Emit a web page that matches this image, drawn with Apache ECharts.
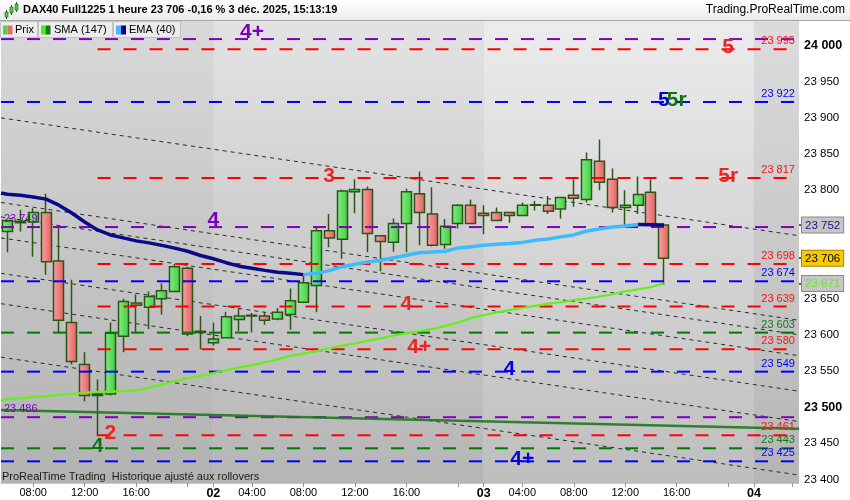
<!DOCTYPE html>
<html><head><meta charset="utf-8">
<script src="https://cdn.jsdelivr.net/npm/echarts@6/dist/echarts.min.js"></script>
<style>html,body{margin:0;padding:0;background:#fff}#c{width:850px;height:500px}</style>
</head><body><div id="c"></div>
<script>
// ---------- DATA ----------
const times = [
 '01 06:00','01 07:00','01 08:00','01 09:00','01 10:00','01 11:00','01 12:00','01 13:00','01 14:00','01 15:00','01 16:00','01 17:00','01 18:00','01 19:00','01 20:00','01 21:00',
 '02 01:00','02 02:00','02 03:00','02 04:00','02 05:00','02 06:00','02 07:00','02 08:00','02 09:00','02 10:00','02 11:00','02 12:00','02 13:00','02 14:00','02 15:00','02 16:00','02 17:00','02 18:00','02 19:00','02 20:00','02 21:00',
 '03 01:00','03 02:00','03 03:00','03 04:00','03 05:00','03 06:00','03 07:00','03 08:00','03 09:00','03 10:00','03 11:00','03 12:00','03 13:00','03 14:00','03 15:00','03 16:00','03 17:00','03 18:00','03 19:00','03 20:00','03 21:00',
 '04 01:00','04 02:00','04 03:00','04 04:00'];
const opens  = [23743,23757,23756,23769,23702,23617,23559,23516,23518,23598,23644,23638,23650,23660,23692,23603,23589,23596,23621,23626,23626,23622,23628,23645,23668,23744,23732,23798,23801,23737,23728,23754,23795,23767,23725,23754,23779,23768,23769,23769,23765,23779,23779,23774,23793,23787,23840,23815,23776,23779,23797,23752];
const closes = [23758,23755,23769,23701,23620,23563,23516,23518,23602,23646,23641,23653,23661,23694,23601,23605,23594,23625,23626,23627,23620,23631,23647,23672,23744,23734,23799,23801,23740,23729,23754,23798,23769,23724,23750,23779,23754,23765,23758,23765,23779,23780,23771,23790,23789,23842,23811,23776,23779,23794,23752,23706];
const lows   = [23714,23743,23708,23683,23602,23559,23508,23460,23516,23576,23602,23608,23628,23659,23598,23580,23585,23595,23605,23603,23614,23620,23607,23644,23631,23721,23705,23768,23714,23688,23715,23714,23724,23722,23719,23747,23753,23739,23757,23755,23764,23772,23767,23761,23777,23783,23800,23769,23752,23767,23750,23669];
const highs  = [23759,23773,23775,23795,23752,23676,23576,23538,23617,23650,23656,23660,23671,23698,23694,23626,23617,23632,23636,23630,23631,23637,23664,23682,23749,23767,23801,23815,23805,23738,23761,23802,23826,23804,23760,23781,23787,23779,23776,23770,23783,23785,23792,23791,23815,23852,23870,23830,23800,23819,23815,23754];
const ema40  = [23794.5,23793,23790.7,23787.6,23779.3,23768.4,23756,23745,23738.1,23734,23729.9,23727.1,23723.7,23719.9,23715.5,23709.7,23705.2,23699.7,23694.9,23692.1,23689.1,23686.6,23685.2,23683.2,23685.2,23688.7,23694.2,23697.6,23700.6,23703.1,23706.5,23710,23713.4,23714.4,23715.5,23719.9,23721.6,23723.7,23725.1,23726.2,23727.8,23730.6,23732.6,23735.4,23738.1,23743.6,23746.4,23749.1,23750.5,23752.5,23752.3,23752];
const sma147 = [23511,23512,23514,23515,23517,23518,23520,23521,23521.5,23522,23523,23527,23531,23536,23540,23543,23547,23551,23555,23558,23562,23566,23571,23574,23577,23581,23585,23588,23592,23595,23599,23602,23605,23608,23612,23617,23623,23627,23631,23634,23637,23640,23643,23645,23648,23650,23653,23656,23660,23663,23666,23671];
// values of both averages where they enter at the left edge of the picture
const emaLeftEdge = 23796, smaLeftEdge = 23509;

// horizontal levels
const redLevels    = [23995, 23817, 23698, 23639, 23580, 23461];
const blueLevels   = [23922, 23674, 23549, 23425];
const greenLevels  = [23603, 23443];
const purpleLevels = [24009, 23749, 23486];
const purpleLeftLabels = ['23 749', '23 486'];
const purpleLeftLabelValues = [23749, 23486];
const redLevelsStart = '01 13:00';

// level tags
const tagTexts  = ['4+', '5', '5', '5r', '3', '5r', '4', '4', '4+', '4', '2', '4', '4+'];
const tagValues = [24009, 23995, 23922, 23922, 23817, 23817, 23749, 23639, 23580, 23549, 23461, 23443, 23425];
const tagTimes  = ['02 04:00','03 20:00','03 15:00','03 16:00','02 10:00','03 20:00','02 01:00','02 16:00','02 17:00','03 03:00','01 14:00','01 13:00','03 04:00'];
const tagKinds  = ['purple','red','blue','green','red','red','purple','red','red','blue','red','green','blue'];

// sloped dashed channel lines (value at left edge, value at right edge)
const diagStart = [23900, 23783, 23763, 23734, 23685, 23643, 23569];
const diagEnd   = [23737, 23620, 23600, 23571, 23522, 23480, 23406];
// long dark green trend line
const trendStart = 23496, trendEnd = 23470;

// axis ticks / labels
const yTicks = [23400, 23450, 23500, 23550, 23600, 23650, 23800, 23850, 23900, 23950, 24000];
const yBold = [23500, 24000];
const xLabelTimes = ['01 08:00','01 12:00','01 16:00','02 01:00','02 04:00','02 08:00','02 12:00','02 16:00','03 01:00','03 04:00','03 08:00','03 12:00','03 16:00','04 01:00'];
const xLabelTexts = ['08:00','12:00','16:00','02','04:00','08:00','12:00','16:00','03','04:00','08:00','12:00','16:00','04'];
const xExtraTicks = ['01 20:00','02 20:00','03 20:00','04 04:00'];
const dayStarts = ['02 01:00', '03 01:00', '04 01:00'];

// ---------- STYLE ----------
const FONT = 'Liberation Sans, Arial, sans-serif';
const kindColor = {red:'#ff0000', blue:'#0000ff', green:'#007a00', purple:'#8000c0'};
const labelColor = {red:'#ff1010', blue:'#0000ff', green:'#107a10', purple:'#8000c0'};
const tagColor = {red:'#ee2424', blue:'#0000e0', green:'#0f730f', purple:'#7a00bb'};
const fmt = v => { const s = String(Math.round(v)); return s.slice(0, s.length - 3) + ' ' + s.slice(-3); };

const chart = echarts.init(document.getElementById('c'), null, {renderer:'canvas'});
const N = times.length;
const LG = (a, b) => new echarts.graphic.LinearGradient(0, 0, 0, 1, [{offset:0, color:a}, {offset:1, color:b}]);
const HG = (a, b) => new echarts.graphic.LinearGradient(0, 0, 1, 0, [{offset:0, color:a}, {offset:1, color:b}]);

const candleData = times.map((t, i) => i < opens.length ? [opens[i], closes[i], lows[i], highs[i]] : '-');

// points on the hidden value x-axis (category centre = index + 0.5)
function toPts(edge, arr) { return [[0, edge], ...arr.map((v, i) => [i + 0.5, v])]; }
function splitSlope(pts) {
  const up = pts.map(p => [p[0], '-']), down = pts.map(p => [p[0], '-']);
  for (let i = 0; i < pts.length - 1; i++) {
    const tgt = pts[i + 1][1] >= pts[i][1] ? up : down;
    tgt[i] = pts[i]; tgt[i + 1] = pts[i + 1];
  }
  return {up, down};
}
const emaS = splitSlope(toPts(emaLeftEdge, ema40)), smaS = splitSlope(toPts(smaLeftEdge, sma147));

const pos = t => times.indexOf(t) + 0.5;
const series = [];

// day background bands
const bandEdges = [0, ...dayStarts.map(pos), N];
const bandCols = [['#d9d9d9', '#b2b2b2'], ['#e3e3e3', '#b5b5b5'], ['#ececec', '#bebebe'], ['#dcdcdc', '#b5b5b5']];
series.push({
  type:'line', xAxisIndex:1, data:[], silent:true,
  markArea:{silent:true, data: bandCols.map((c, i) => [{xAxis: bandEdges[i], itemStyle:{color: LG(c[0], c[1])}}, {xAxis: bandEdges[i + 1]}])}
});

// diagonal channel lines
diagStart.forEach((s, i) => series.push({
  type:'line', xAxisIndex:1, symbol:'none', silent:true, z:2,
  lineStyle:{color:'#2a2a2a', width:1, type:[4, 4]},
  data:[[0, s], [N, diagEnd[i]]]
}));

// candles
series.push({
  type:'candlestick', data:candleData, barWidth:10.5, z:3,
  itemStyle:{color: HG('#86ee86', '#3fcc3f'), color0: HG('#f8a4a4', '#e45e5e'),
    borderColor:'#2b5618', borderColor0:'#2b5618', borderWidth:1.5}
});

// horizontal levels
function addLevels(list, kind, startX) {
  list.forEach(v => series.push({
    type:'line', xAxisIndex:1, symbol:'none', silent:true, z:4,
    lineStyle:{color: kindColor[kind], width:2, type:[13, 13]},
    data:[[startX, v], [N, v]]
  }));
}
addLevels(redLevels, 'red', pos(redLevelsStart));
addLevels(blueLevels, 'blue', 0);
addLevels(greenLevels, 'green', 0);
addLevels(purpleLevels, 'purple', 0);

// trend line
series.push({type:'line', xAxisIndex:1, symbol:'none', silent:true, z:5,
  lineStyle:{color:'#1d7a1d', width:2.5, opacity:0.9}, data:[[0, trendStart], [N, trendEnd]]});

// SMA & EMA
series.push({type:'line', xAxisIndex:1, data:smaS.up, symbol:'none', z:6, lineStyle:{color:'#66ee1a', width:2.2}});
series.push({type:'line', xAxisIndex:1, data:smaS.down, symbol:'none', z:6, lineStyle:{color:'#117711', width:2.2}});
series.push({type:'line', xAxisIndex:1, data:emaS.down, symbol:'none', z:7, lineStyle:{color:'#0a0a88', width:3.5}});
series.push({type:'line', xAxisIndex:1, data:emaS.up, symbol:'none', z:7, lineStyle:{color:'#3cbcff', width:3.5}});

const txtBase = {show:true, position:[0, 0], fontFamily:FONT, textBorderWidth:0, opacity:1};
// right-side level values
const rightLab = [];
[['red', redLevels], ['blue', blueLevels], ['green', greenLevels]].forEach(([k, arr]) =>
  arr.forEach(v => rightLab.push({value:[N, v], label:{formatter: fmt(v), color: labelColor[k]}})));
series.push({type:'scatter', xAxisIndex:1, symbolSize:0.1, itemStyle:{color:'#000', opacity:0}, silent:true, z:9,
  label:Object.assign({}, txtBase, {align:'right', verticalAlign:'middle', offset:[-4, -8], fontSize:11}),
  data: rightLab});
// left purple labels
series.push({type:'scatter', xAxisIndex:1, symbolSize:0.1, itemStyle:{color:'#000', opacity:0}, silent:true, z:9,
  label:Object.assign({}, txtBase, {align:'left', verticalAlign:'middle', offset:[3, -8], fontSize:11, color:labelColor.purple}),
  data: purpleLeftLabelValues.map((v, i) => ({value:[0, v], label:{formatter: purpleLeftLabels[i]}}))});
// tags
series.push({type:'scatter', symbolSize:0.1, itemStyle:{color:'#000', opacity:0}, silent:true, z:10,
  label:Object.assign({}, txtBase, {align:'center', verticalAlign:'middle', fontSize:21, fontWeight:'bold'}),
  data: tagTexts.map((t, i) => ({value:[tagTimes[i], tagValues[i]],
    label:{formatter: t, color: tagColor[tagKinds[i]], offset:[0, tagKinds[i] === 'purple' ? -7 : -2]}}))});

// current value boxes on right axis
const lastEma = ema40[ema40.length - 1], lastPrice = closes[closes.length - 1], lastSma = sma147[sma147.length - 1];
const boxVals = [lastEma, lastPrice, lastSma], boxKeys = ['ema', 'px', 'sma'];

const xLabelSet = {}; xLabelTimes.forEach((t, i) => xLabelSet[t] = xLabelTexts[i]);
const xTickSet = new Set([...xLabelTimes, ...xExtraTicks]);

const option = {
  animation:false,
  backgroundColor:'#ffffff',
  grid:{left:1, right:51, top:21, bottom:16, show:true, backgroundColor:'#d0d0d0', borderWidth:0},
  xAxis:[{
    type:'category', data:times, boundaryGap:true,
    axisLine:{show:true, lineStyle:{color:'#c8c8c8'}},
    axisTick:{show:true, alignWithLabel:true, length:4, interval:(i, v) => xTickSet.has(v), lineStyle:{color:'#999'}},
    axisLabel:{interval:(i, v) => v in xLabelSet, margin:4, fontSize:11, color:'#000', fontFamily:FONT,
      formatter:(v) => { const s = xLabelSet[v] || ''; return s.length === 2 ? '{d|' + s + '}' : s; },
      rich:{d:{fontSize:12.5, fontWeight:'bold', color:'#000', fontFamily:FONT}}},
    splitLine:{show:false}
  }, {type:'value', min:0, max:N, show:false}],
  yAxis:[{
    type:'value', position:'right', min:23395, max:24034,
    axisLine:{show:true, lineStyle:{color:'#aaaaaa'}},
    axisTick:{show:true, length:4, customValues:yTicks, lineStyle:{color:'#444'}},
    axisLabel:{customValues:yTicks, margin:5, fontSize:11.5, color:'#000', fontFamily:FONT,
      formatter:v => yBold.includes(v) ? '{b|' + fmt(v) + '}' : fmt(v),
      rich:{b:{fontSize:12.5, fontWeight:'bold', color:'#000', fontFamily:FONT}}},
    splitLine:{show:false}
  }, {
    type:'value', position:'right', min:23395, max:24034,
    axisLine:{show:false},
    axisTick:{show:true, length:4, customValues:boxVals, lineStyle:{color:'#222', width:1.5}},
    axisLabel:{customValues:boxVals, margin:3, fontSize:11.5, fontFamily:FONT,
      formatter:v => '{' + boxKeys[boxVals.indexOf(v)] + '|' + fmt(v) + '}',
      rich:{
        ema:{color:'#14148a', backgroundColor:'#c6c6c6', borderColor:'#8a8a8a', borderWidth:1, padding:[2,3,1,3], fontSize:11.5, fontFamily:FONT},
        px:{color:'#000', backgroundColor:'#f8c800', borderColor:'#a88400', borderWidth:1, padding:[2,3,1,3], fontSize:11.5, fontFamily:FONT},
        sma:{color:'#5cf01c', backgroundColor:'#c6c6c6', borderColor:'#8a8a8a', borderWidth:1, padding:[2,3,1,3], fontSize:11.5, fontFamily:FONT}
      }},
    splitLine:{show:false}
  }],
  series: series,
  graphic:[
    // title bar
    {type:'rect', left:0, top:0, shape:{width:850, height:20}, style:{fill: LG('#ffffff', '#ebebeb'), stroke:null}, z:100},
    {type:'line', shape:{x1:0, y1:20.5, x2:850, y2:20.5}, style:{stroke:'#a8a8a8', lineWidth:1}, z:101},
    // icon
    {type:'line', shape:{x1:6.5, y1:10, x2:6.5, y2:19}, style:{stroke:'#2b5618', lineWidth:1}, z:101},
    {type:'rect', shape:{x:5, y:12, width:3, height:5}, style:{fill:'#4ccc4c', stroke:'#2b5618', lineWidth:0.6}, z:102},
    {type:'line', shape:{x1:11.5, y1:5, x2:11.5, y2:15}, style:{stroke:'#2b5618', lineWidth:1}, z:101},
    {type:'rect', shape:{x:10, y:7, width:3, height:6}, style:{fill:'#4ccc4c', stroke:'#2b5618', lineWidth:0.6}, z:102},
    {type:'line', shape:{x1:16.5, y1:2, x2:16.5, y2:12}, style:{stroke:'#2b5618', lineWidth:1}, z:101},
    {type:'rect', shape:{x:15, y:4, width:3, height:6}, style:{fill:'#4ccc4c', stroke:'#2b5618', lineWidth:0.6}, z:102},
    {type:'text', left:23, top:4, style:{text:'DAX40 Full1225 1 heure 23 706 -0,16 % 3 déc. 2025, 15:13:19', fontSize:11, fontWeight:'bold', fontFamily:FONT, fill:'#000'}, z:102},
    {type:'text', right:5, top:3.5, style:{text:'Trading.ProRealTime.com', fontSize:12, fontFamily:FONT, fill:'#000'}, z:102},
    // legend boxes
    {type:'rect', shape:{x:0.5, y:21.5, width:37, height:16}, style:{fill:'#ececec', stroke:'#c2c2c2', lineWidth:1}, z:100},
    {type:'rect', shape:{x:3, y:25.5, width:4.5, height:9}, style:{fill:'#4cd44c'}, z:101},
    {type:'rect', shape:{x:7.5, y:25.5, width:5, height:9}, style:{fill:'#e86a6a'}, z:101},
    {type:'text', left:15, top:24.5, style:{text:'Prix', fontSize:11, fontFamily:FONT, fill:'#000'}, z:101},
    {type:'rect', shape:{x:38.5, y:21.5, width:74, height:16}, style:{fill:'#ececec', stroke:'#c2c2c2', lineWidth:1}, z:100},
    {type:'rect', shape:{x:41, y:25.5, width:4.5, height:9}, style:{fill:'#4cee11'}, z:101},
    {type:'rect', shape:{x:45.5, y:25.5, width:5, height:9}, style:{fill:'#127a12'}, z:101},
    {type:'text', left:54, top:24.5, style:{text:'SMA (147)', fontSize:11, fontFamily:FONT, fill:'#000'}, z:101},
    {type:'rect', shape:{x:113.5, y:21.5, width:67, height:16}, style:{fill:'#ececec', stroke:'#c2c2c2', lineWidth:1}, z:100},
    {type:'rect', shape:{x:116, y:25.5, width:5, height:9}, style:{fill:'#44bbff'}, z:101},
    {type:'rect', shape:{x:121, y:25.5, width:5, height:9}, style:{fill:'#000099'}, z:101},
    {type:'text', left:129, top:24.5, style:{text:'EMA (40)', fontSize:11, fontFamily:FONT, fill:'#000'}, z:101},
    // bottom note
    {type:'text', left:2, top:471, style:{text:'ProRealTime Trading  Historique ajusté aux rollovers', fontSize:11, fontFamily:FONT, fill:'#1a1a1a'}, z:101}
  ]
};
chart.setOption(option);
</script></body></html>
